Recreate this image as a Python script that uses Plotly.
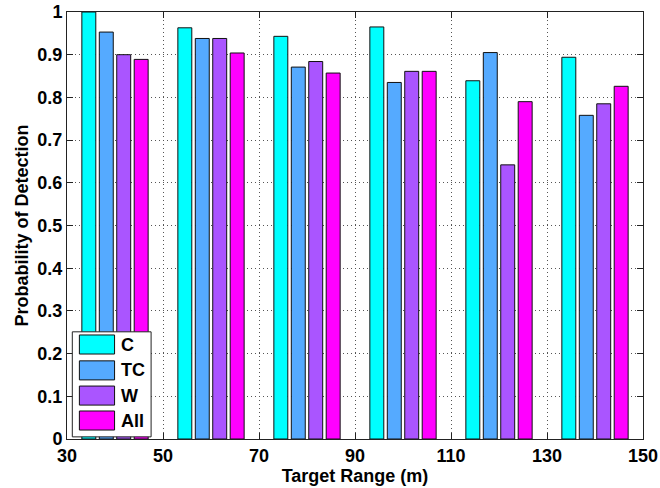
import plotly.graph_objects as go

# Detection probability per target range, grouped by class
ranges = [40, 60, 80, 100, 120, 140]
series_names = ["C", "TC", "W", "All"]
pd_c = [1.000, 0.963, 0.943, 0.965, 0.839, 0.894]
pd_tc = [0.953, 0.938, 0.871, 0.835, 0.905, 0.758]
pd_w = [0.900, 0.938, 0.884, 0.861, 0.642, 0.785]
pd_all = [0.889, 0.904, 0.857, 0.861, 0.790, 0.826]
series_values = [pd_c, pd_tc, pd_w, pd_all]

x_ticks = [30, 50, 70, 90, 110, 130, 150]
y_ticks = [0, 0.1, 0.2, 0.3, 0.4, 0.5, 0.6, 0.7, 0.8, 0.9, 1]
y_tick_labels = ["0", "0.1", "0.2", "0.3", "0.4", "0.5", "0.6", "0.7", "0.8", "0.9", "1"]

# "cool" colormap sampled at four points
colors = ["#00FFFF", "#55AAFF", "#AA55FF", "#FF00FF"]

FONT = "Liberation Sans, Arial, sans-serif"

fig = go.Figure()
for name, vals, col in zip(series_names, series_values, colors):
    fig.add_trace(go.Bar(
        x=ranges, y=vals, name=name,
        marker=dict(color=col, line=dict(color="#111111", width=1)),
        showlegend=False,
    ))

axis_common = dict(
    showline=True, linecolor="#222222", linewidth=1, mirror="ticks",
    ticks="inside", ticklen=6, tickcolor="#222222",
    showgrid=True, gridcolor="#555555", griddash="1px,3px", gridwidth=1,
    zeroline=False, automargin=False,
    tickfont=dict(family=FONT, size=18, color="black", weight="bold"),
)

fig.update_xaxes(
    range=[30, 150], tickvals=x_ticks, ticktext=[str(v) for v in x_ticks],
    title=dict(text="<b>Target Range (m)</b>", standoff=2,
               font=dict(family=FONT, size=18, color="black")),
    **axis_common,
)
fig.update_yaxes(
    range=[0, 1], tickvals=y_ticks, ticktext=y_tick_labels,
    title=dict(text="<b>Probability of Detection</b>", standoff=4,
               font=dict(family=FONT, size=18, color="black")),
    **axis_common,
)

# Legend box with large swatches, drawn in paper coordinates
shapes = [dict(type="rect", xref="paper", yref="paper",
               x0=0.0092, x1=0.146, y0=0.005, y1=0.251,
               fillcolor="white", line=dict(color="#222222", width=1), layer="above")]
annotations = []
row_tops = [0.2436, 0.183, 0.124, 0.0656]
row_h = 0.0446
for name, col, top in zip(series_names, colors, row_tops):
    shapes.append(dict(type="rect", xref="paper", yref="paper",
                       x0=0.0215, x1=0.0826, y0=top - row_h, y1=top,
                       fillcolor=col, line=dict(color="#111111", width=1), layer="above"))
    annotations.append(dict(xref="paper", yref="paper", x=0.0895, y=top - row_h / 2,
                            text="<b>%s</b>" % name, showarrow=False,
                            xanchor="left", yanchor="middle",
                            font=dict(family=FONT, size=18, color="black")))

fig.update_layout(
    width=660, height=488,
    margin=dict(l=67, r=17, t=12, b=49),
    paper_bgcolor="white", plot_bgcolor="white",
    barmode="group", bargap=0.273, bargroupgap=0.2,
    shapes=shapes, annotations=annotations,
    showlegend=False,
)

fig.write_html("out.html")
